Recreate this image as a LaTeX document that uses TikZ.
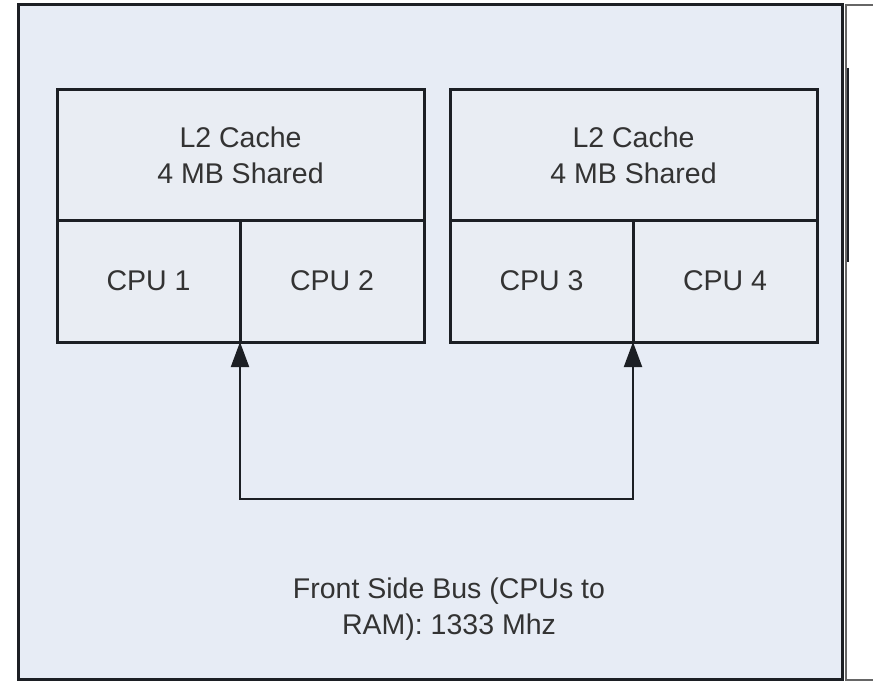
\documentclass[tikz,border=0pt]{standalone}
\usepackage{fontspec}
\setmainfont{Liberation Sans}
\usetikzlibrary{arrows.meta,positioning}

\definecolor{boardfill}{RGB}{231,236,245}
\definecolor{boxfill}{RGB}{233,237,243}
\definecolor{edge}{RGB}{28,31,36}

\begin{document}
\begin{tikzpicture}[
			x=1pt,
			y=-1pt,
			font=\fontsize{28.5}{36}\selectfont,
			cache/.style={rectangle, draw=edge, fill=boxfill, line width=3pt, minimum width=367pt, minimum height=130pt, inner sep=0pt, outer sep=0pt, align=center, text=black!80},
			cpu/.style={rectangle, draw=edge, fill=boxfill, line width=3pt, minimum height=122pt, inner sep=0pt, outer sep=0pt, align=center, text=black!80},
			note/.style={align=center, text=black!80},
			bus/.style={draw=edge, line width=2pt, {Triangle[length=25pt,width=18pt]}-{Triangle[length=25pt,width=18pt]}}
		]
		\useasboundingbox (0,0) rectangle (873,682);
		\draw[black!60, line width=1.2pt, fill=white] (846,5) rectangle (880,680);
		\draw[edge, line width=2pt] (848,68) -- (848,262);
		\draw[edge, line width=3pt, fill=boardfill] (18,5) rectangle (842,679);

		\node[cache] (cacheA) at (240.5,155) {L2 Cache\\4 MB Shared};
		\node[cpu, minimum width=183pt, below right=0pt and 0pt of cacheA.south west] (cpu1) {CPU 1};
		\node[cpu, minimum width=184pt, right=0pt of cpu1] (cpu2) {CPU 2};

		\node[cache] (cacheB) at (633.5,155) {L2 Cache\\4 MB Shared};
		\node[cpu, minimum width=183pt, below right=0pt and 0pt of cacheB.south west] (cpu3) {CPU 3};
		\node[cpu, minimum width=184pt, right=0pt of cpu3] (cpu4) {CPU 4};

		\coordinate (busY) at (0,499);
		\draw[bus] (cpu1.south east) -- (cpu1.south east |- busY) -- (cpu3.south east |- busY) -- (cpu3.south east);

		\node[note] (fsb) at (449,609) {Front Side Bus (CPUs to\\RAM): 1333 Mhz};
	\end{tikzpicture}
\end{document}
